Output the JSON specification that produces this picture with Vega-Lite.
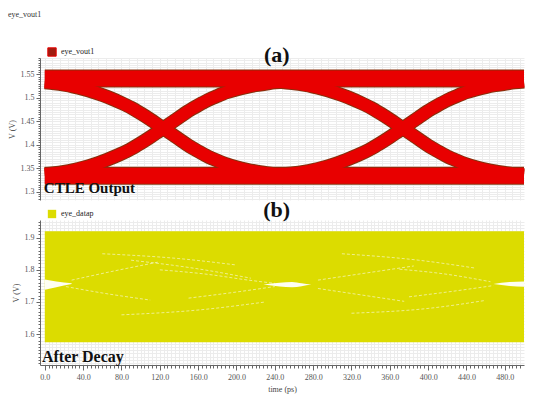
{
  "$schema": "https://vega.github.io/schema/vega-lite/v6.json",
  "padding": {"left": 8, "top": 10, "right": 5, "bottom": 5},
  "background": "white",
  "title": {"text": "eye_vout1", "anchor": "start", "fontSize": 8, "font": "Liberation Serif", "fontWeight": "normal", "color": "#333", "offset": 24},
  "bounds": "flush",
  "spacing": 20,
  "resolve": {"scale": {"color": "independent"}, "legend": {"color": "independent"}},
  "config": {
    "view": {"stroke": null},
    "axis": {"labelFont": "Liberation Serif", "labelFontSize": 8, "labelColor": "#555", "titleFont": "Liberation Serif", "titleFontSize": 8, "titleFontWeight": "normal", "titleColor": "#444", "domainColor": "#666", "tickColor": "#666", "gridColor": "#ececec", "labelOverlap": false}
  },
  "datasets": {
    "bandsA": [
      {"k": "top", "t": 0, "v": 1.541}, {"k": "top", "t": 500, "v": 1.541},
      {"k": "bot", "t": 0, "v": 1.334}, {"k": "bot", "t": 500, "v": 1.334}
    ],
    "edgesA": [
      {"k": "F1", "t": 0, "v": 1.533}, {"k": "F1", "t": 10, "v": 1.531}, {"k": "F1", "t": 20, "v": 1.528}, {"k": "F1", "t": 30, "v": 1.524}, {"k": "F1", "t": 40, "v": 1.519}, {"k": "F1", "t": 50, "v": 1.513}, {"k": "F1", "t": 60, "v": 1.506}, {"k": "F1", "t": 70, "v": 1.498}, {"k": "F1", "t": 80, "v": 1.489}, {"k": "F1", "t": 90, "v": 1.479}, {"k": "F1", "t": 100, "v": 1.467}, {"k": "F1", "t": 110, "v": 1.454}, {"k": "F1", "t": 120, "v": 1.440}, {"k": "F1", "t": 130, "v": 1.426}, {"k": "F1", "t": 140, "v": 1.412}, {"k": "F1", "t": 150, "v": 1.398}, {"k": "F1", "t": 160, "v": 1.386}, {"k": "F1", "t": 170, "v": 1.375}, {"k": "F1", "t": 180, "v": 1.366}, {"k": "F1", "t": 190, "v": 1.358}, {"k": "F1", "t": 200, "v": 1.352}, {"k": "F1", "t": 210, "v": 1.347}, {"k": "F1", "t": 220, "v": 1.343}, {"k": "F1", "t": 230, "v": 1.340}, {"k": "F1", "t": 240, "v": 1.337}, {"k": "F1", "t": 250, "v": 1.335}, {"k": "F1", "t": 260, "v": 1.334},
      {"k": "R1", "t": 0, "v": 1.337}, {"k": "R1", "t": 10, "v": 1.339}, {"k": "R1", "t": 20, "v": 1.342}, {"k": "R1", "t": 30, "v": 1.346}, {"k": "R1", "t": 40, "v": 1.351}, {"k": "R1", "t": 50, "v": 1.357}, {"k": "R1", "t": 60, "v": 1.364}, {"k": "R1", "t": 70, "v": 1.372}, {"k": "R1", "t": 80, "v": 1.381}, {"k": "R1", "t": 90, "v": 1.391}, {"k": "R1", "t": 100, "v": 1.403}, {"k": "R1", "t": 110, "v": 1.416}, {"k": "R1", "t": 120, "v": 1.430}, {"k": "R1", "t": 130, "v": 1.444}, {"k": "R1", "t": 140, "v": 1.458}, {"k": "R1", "t": 150, "v": 1.472}, {"k": "R1", "t": 160, "v": 1.484}, {"k": "R1", "t": 170, "v": 1.495}, {"k": "R1", "t": 180, "v": 1.504}, {"k": "R1", "t": 190, "v": 1.512}, {"k": "R1", "t": 200, "v": 1.518}, {"k": "R1", "t": 210, "v": 1.523}, {"k": "R1", "t": 220, "v": 1.527}, {"k": "R1", "t": 230, "v": 1.530}, {"k": "R1", "t": 240, "v": 1.533}, {"k": "R1", "t": 250, "v": 1.535}, {"k": "R1", "t": 260, "v": 1.536},
      {"k": "F2", "t": 240, "v": 1.536}, {"k": "F2", "t": 250, "v": 1.533}, {"k": "F2", "t": 260, "v": 1.531}, {"k": "F2", "t": 270, "v": 1.528}, {"k": "F2", "t": 280, "v": 1.524}, {"k": "F2", "t": 290, "v": 1.519}, {"k": "F2", "t": 300, "v": 1.513}, {"k": "F2", "t": 310, "v": 1.506}, {"k": "F2", "t": 320, "v": 1.498}, {"k": "F2", "t": 330, "v": 1.489}, {"k": "F2", "t": 340, "v": 1.479}, {"k": "F2", "t": 350, "v": 1.467}, {"k": "F2", "t": 360, "v": 1.454}, {"k": "F2", "t": 370, "v": 1.440}, {"k": "F2", "t": 380, "v": 1.426}, {"k": "F2", "t": 390, "v": 1.412}, {"k": "F2", "t": 400, "v": 1.398}, {"k": "F2", "t": 410, "v": 1.386}, {"k": "F2", "t": 420, "v": 1.375}, {"k": "F2", "t": 430, "v": 1.366}, {"k": "F2", "t": 440, "v": 1.358}, {"k": "F2", "t": 450, "v": 1.352}, {"k": "F2", "t": 460, "v": 1.347}, {"k": "F2", "t": 470, "v": 1.343}, {"k": "F2", "t": 480, "v": 1.340}, {"k": "F2", "t": 490, "v": 1.337}, {"k": "F2", "t": 500, "v": 1.335},
      {"k": "R2", "t": 240, "v": 1.334}, {"k": "R2", "t": 250, "v": 1.337}, {"k": "R2", "t": 260, "v": 1.339}, {"k": "R2", "t": 270, "v": 1.342}, {"k": "R2", "t": 280, "v": 1.346}, {"k": "R2", "t": 290, "v": 1.351}, {"k": "R2", "t": 300, "v": 1.357}, {"k": "R2", "t": 310, "v": 1.364}, {"k": "R2", "t": 320, "v": 1.372}, {"k": "R2", "t": 330, "v": 1.381}, {"k": "R2", "t": 340, "v": 1.391}, {"k": "R2", "t": 350, "v": 1.403}, {"k": "R2", "t": 360, "v": 1.416}, {"k": "R2", "t": 370, "v": 1.430}, {"k": "R2", "t": 380, "v": 1.444}, {"k": "R2", "t": 390, "v": 1.458}, {"k": "R2", "t": 400, "v": 1.472}, {"k": "R2", "t": 410, "v": 1.484}, {"k": "R2", "t": 420, "v": 1.495}, {"k": "R2", "t": 430, "v": 1.504}, {"k": "R2", "t": 440, "v": 1.512}, {"k": "R2", "t": 450, "v": 1.518}, {"k": "R2", "t": 460, "v": 1.523}, {"k": "R2", "t": 470, "v": 1.527}, {"k": "R2", "t": 480, "v": 1.530}, {"k": "R2", "t": 490, "v": 1.533}, {"k": "R2", "t": 500, "v": 1.535}
    ],
    "textA": [{"t": 242, "v": 1.591, "txt": "(a)"}],
    "textA2": [{"t": -1, "v": 1.307, "txt": "CTLE Output"}],
    "fillB": [{"t0": 0, "t1": 500, "lo": 1.575, "hi": 1.92}],
    "lensB": [
      {"k": "L1", "t": 228, "lo": 1.754, "hi": 1.754}, {"k": "L1", "t": 245, "lo": 1.748, "hi": 1.760}, {"k": "L1", "t": 258, "lo": 1.746, "hi": 1.762}, {"k": "L1", "t": 268, "lo": 1.749, "hi": 1.758}, {"k": "L1", "t": 278, "lo": 1.754, "hi": 1.754},
      {"k": "L2", "t": 468, "lo": 1.756, "hi": 1.756}, {"k": "L2", "t": 485, "lo": 1.750, "hi": 1.762}, {"k": "L2", "t": 500, "lo": 1.747, "hi": 1.764},
      {"k": "L3", "t": 0, "lo": 1.738, "hi": 1.770}, {"k": "L3", "t": 12, "lo": 1.746, "hi": 1.764}, {"k": "L3", "t": 28, "lo": 1.756, "hi": 1.758}
    ],
    "streakB": [
      {"k": "S1", "t": 120, "v": 1.800}, {"k": "S1", "t": 170, "v": 1.786}, {"k": "S1", "t": 210, "v": 1.769}, {"k": "S1", "t": 240, "v": 1.758},
      {"k": "S2", "t": 90, "v": 1.830}, {"k": "S2", "t": 160, "v": 1.803}, {"k": "S2", "t": 215, "v": 1.774},
      {"k": "S3", "t": 150, "v": 1.712}, {"k": "S3", "t": 200, "v": 1.731}, {"k": "S3", "t": 240, "v": 1.748},
      {"k": "S4", "t": 28, "v": 1.768}, {"k": "S4", "t": 70, "v": 1.795}, {"k": "S4", "t": 120, "v": 1.825},
      {"k": "S5", "t": 22, "v": 1.748}, {"k": "S5", "t": 60, "v": 1.728}, {"k": "S5", "t": 110, "v": 1.706},
      {"k": "S6", "t": 370, "v": 1.802}, {"k": "S6", "t": 420, "v": 1.786}, {"k": "S6", "t": 465, "v": 1.763},
      {"k": "S7", "t": 380, "v": 1.716}, {"k": "S7", "t": 430, "v": 1.735}, {"k": "S7", "t": 468, "v": 1.751},
      {"k": "S8", "t": 285, "v": 1.768}, {"k": "S8", "t": 335, "v": 1.790}, {"k": "S8", "t": 385, "v": 1.812},
      {"k": "S9", "t": 285, "v": 1.742}, {"k": "S9", "t": 330, "v": 1.722}, {"k": "S9", "t": 375, "v": 1.702},
      {"k": "S10", "t": 60, "v": 1.850}, {"k": "S10", "t": 140, "v": 1.835}, {"k": "S10", "t": 200, "v": 1.815},
      {"k": "S11", "t": 80, "v": 1.660}, {"k": "S11", "t": 160, "v": 1.675}, {"k": "S11", "t": 230, "v": 1.700},
      {"k": "S12", "t": 310, "v": 1.850}, {"k": "S12", "t": 390, "v": 1.830}, {"k": "S12", "t": 450, "v": 1.805},
      {"k": "S13", "t": 320, "v": 1.665}, {"k": "S13", "t": 400, "v": 1.680}, {"k": "S13", "t": 460, "v": 1.705}
    ],
    "textB": [{"t": 242, "v": 1.986, "txt": "(b)"}],
    "textB2": [{"t": -3, "v": 1.529, "txt": "After Decay"}]
  },
  "vconcat": [
    {
      "width": 484,
      "height": 142,
      "encoding": {
        "x": {"field": "t", "type": "quantitative", "scale": {"domain": [-5, 500], "nice": false},
          "axis": {"values": [0,8,16,24,32,40,48,56,64,72,80,88,96,104,112,120,128,136,144,152,160,168,176,184,192,200,208,216,224,232,240,248,256,264,272,280,288,296,304,312,320,328,336,344,352,360,368,376,384,392,400,408,416,424,432,440,448,456,464,472,480,488,496], "labels": false, "ticks": false, "domain": false, "title": null, "grid": true}},
        "y": {"field": "v", "type": "quantitative", "scale": {"domain": [1.282, 1.585], "nice": false, "zero": false},
          "axis": {"title": "V (V)", "titlePadding": 4, "labelPadding": 2, "tickSize": {"condition": {"test": "abs(datum.value*20 - round(datum.value*20)) < 0.001", "value": 4}, "value": 2}, "grid": true,
            "values": [1.285,1.29,1.295,1.3,1.305,1.31,1.315,1.32,1.325,1.33,1.335,1.34,1.345,1.35,1.355,1.36,1.365,1.37,1.375,1.38,1.385,1.39,1.395,1.4,1.405,1.41,1.415,1.42,1.425,1.43,1.435,1.44,1.445,1.45,1.455,1.46,1.465,1.47,1.475,1.48,1.485,1.49,1.495,1.5,1.505,1.51,1.515,1.52,1.525,1.53,1.535,1.54,1.545,1.55,1.555,1.56,1.565,1.57,1.575,1.58,1.585],
            "labelExpr": "abs(datum.value*20 - round(datum.value*20)) < 0.001 ? toString(round(datum.value*100)/100) : ''"}}
      },
      "layer": [
        {"data": {"name": "bandsA"}, "mark": {"type": "line", "strokeWidth": 18, "strokeCap": "butt", "color": "#86300c"}, "encoding": {"detail": {"field": "k"}}},
        {"data": {"name": "edgesA"}, "mark": {"type": "line", "strokeWidth": 14, "strokeCap": "butt", "color": "#86300c", "interpolate": "monotone"}, "encoding": {"detail": {"field": "k"}}},
        {"data": {"name": "bandsA"}, "mark": {"type": "line", "strokeWidth": 16, "strokeCap": "butt"},
          "encoding": {"detail": {"field": "k"}, "color": {"datum": "eye_vout1", "scale": {"range": ["#e80000"]},
            "legend": {"title": null, "orient": "none", "legendX": 7, "legendY": -11, "symbolType": "square", "symbolSize": 70, "symbolFillColor": "#a01c10", "symbolStrokeWidth": 1, "labelFont": "Liberation Serif", "labelFontSize": 8, "labelColor": "#222", "padding": 0}}}},
        {"data": {"name": "edgesA"}, "mark": {"type": "line", "strokeWidth": 12, "strokeCap": "butt", "interpolate": "monotone"},
          "encoding": {"detail": {"field": "k"}, "color": {"datum": "eye_vout1"}}},
        {"data": {"name": "textA"}, "mark": {"type": "text", "font": "Liberation Serif", "fontWeight": "bold", "fontSize": 22, "color": "#111", "baseline": "middle"}, "encoding": {"text": {"field": "txt"}}},
        {"data": {"name": "textA2"}, "mark": {"type": "text", "font": "Liberation Serif", "fontWeight": "bold", "fontSize": 15, "color": "#111", "baseline": "middle", "align": "left"}, "encoding": {"text": {"field": "txt"}}}
      ]
    },
    {
      "width": 484,
      "height": 145,
      "encoding": {
        "x": {"field": "t", "type": "quantitative", "scale": {"domain": [-5, 500], "nice": false},
          "axis": {"title": "time (ps)", "titlePadding": 4, "labelPadding": 3, "grid": true,
            "tickSize": {"condition": {"test": "datum.value % 40 === 0", "value": 5}, "value": 3},
            "values": [0,4,8,12,16,20,24,28,32,36,40,44,48,52,56,60,64,68,72,76,80,84,88,92,96,100,104,108,112,116,120,124,128,132,136,140,144,148,152,156,160,164,168,172,176,180,184,188,192,196,200,204,208,212,216,220,224,228,232,236,240,244,248,252,256,260,264,268,272,276,280,284,288,292,296,300,304,308,312,316,320,324,328,332,336,340,344,348,352,356,360,364,368,372,376,380,384,388,392,396,400,404,408,412,416,420,424,428,432,436,440,444,448,452,456,460,464,468,472,476,480,484,488,492,496],
            "labelExpr": "datum.value % 40 === 0 ? format(datum.value, '.1f') : ''"}},
        "y": {"field": "v", "type": "quantitative", "scale": {"domain": [1.504, 1.955], "nice": false, "zero": false},
          "axis": {"title": "V (V)", "titlePadding": 4, "labelPadding": 2, "grid": true,
            "tickSize": {"condition": {"test": "abs(datum.value*10 - round(datum.value*10)) < 0.001", "value": 4}, "value": 2},
            "values": [1.51,1.52,1.53,1.54,1.55,1.56,1.57,1.58,1.59,1.6,1.61,1.62,1.63,1.64,1.65,1.66,1.67,1.68,1.69,1.7,1.71,1.72,1.73,1.74,1.75,1.76,1.77,1.78,1.79,1.8,1.81,1.82,1.83,1.84,1.85,1.86,1.87,1.88,1.89,1.9,1.91,1.92,1.93,1.94,1.95],
            "labelExpr": "abs(datum.value*10 - round(datum.value*10)) < 0.001 ? toString(round(datum.value*10)/10) : ''"}}
      },
      "layer": [
        {"data": {"name": "fillB"}, "mark": {"type": "rect"},
          "encoding": {"x": {"field": "t0", "type": "quantitative"}, "x2": {"field": "t1"}, "y": {"field": "lo", "type": "quantitative"}, "y2": {"field": "hi"},
            "color": {"datum": "eye_datap", "scale": {"range": ["#dcdc00"]},
              "legend": {"title": null, "orient": "none", "legendX": 7, "legendY": -11, "symbolType": "square", "symbolSize": 70, "symbolFillColor": "#c8c800", "labelFont": "Liberation Serif", "labelFontSize": 8, "labelColor": "#222", "padding": 0}}}},
        {"data": {"name": "lensB"}, "mark": {"type": "area", "color": "white", "opacity": 0.95, "interpolate": "monotone"},
          "encoding": {"y": {"field": "lo", "type": "quantitative"}, "y2": {"field": "hi"}, "detail": {"field": "k"}}},
        {"data": {"name": "streakB"}, "mark": {"type": "line", "color": "white", "strokeWidth": 1, "opacity": 0.55, "strokeDash": [3, 2], "interpolate": "monotone"},
          "encoding": {"detail": {"field": "k"}}},
        {"data": {"name": "textB"}, "mark": {"type": "text", "font": "Liberation Serif", "fontWeight": "bold", "fontSize": 22, "color": "#111", "baseline": "middle"}, "encoding": {"text": {"field": "txt"}}},
        {"data": {"name": "textB2"}, "mark": {"type": "text", "font": "Liberation Serif", "fontWeight": "bold", "fontSize": 16, "color": "#111", "baseline": "middle", "align": "left"}, "encoding": {"text": {"field": "txt"}}}
      ]
    }
  ]
}
